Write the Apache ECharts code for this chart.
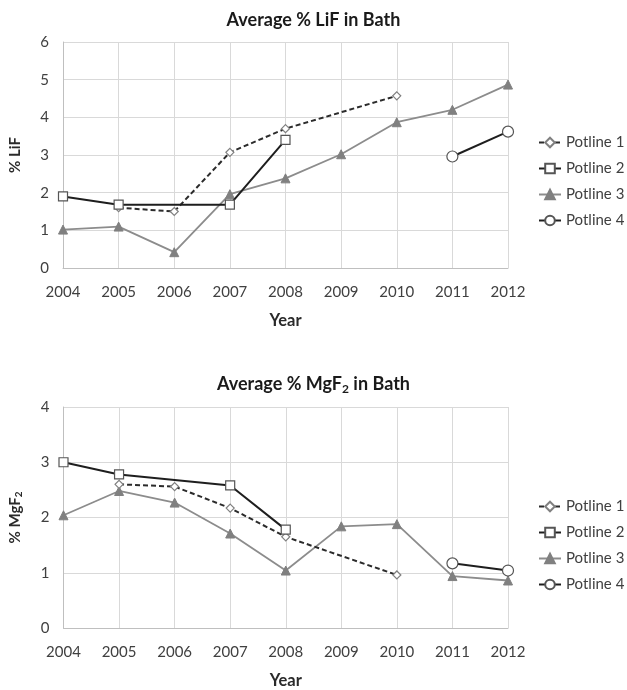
<!DOCTYPE html>
<html><head><meta charset="utf-8">
<script src="https://cdn.jsdelivr.net/npm/echarts@6/dist/echarts.min.js"></script>
<style>html,body{margin:0;padding:0;background:#fff}#c{width:627px;height:690px}</style>
</head><body><div id="c"></div>
<script>
const years = ['2004','2005','2006','2007','2008','2009','2010','2011','2012'];
const seriesNames = ['Potline 1','Potline 2','Potline 3','Potline 4'];
const lifP1 = [null,1.6,1.5,3.07,3.7,null,4.57,null,null];
const lifP2 = [1.9,1.68,null,1.68,3.4,null,null,null,null];
const lifP3 = [1.02,1.1,0.42,1.96,2.38,3.02,3.87,4.2,4.87];
const lifP4 = [null,null,null,null,null,null,null,2.96,3.62];
const mgP1 = [null,2.6,2.56,2.17,1.65,null,0.96,null,null];
const mgP2 = [3.0,2.78,null,2.58,1.78,null,null,null,null];
const mgP3 = [2.04,2.48,2.27,1.71,1.04,1.84,1.88,0.94,0.86];
const mgP4 = [null,null,null,null,null,null,null,1.17,1.04];
const lifTicks = {min:0,max:6,interval:1};
const mgTicks = {min:0,max:4,interval:1};

const FONT = 'Lato';
const txt = '#404040';
const grid = '#d9d9d9';

function styles(i){
  return [
    {symbol:'diamond',symbolSize:8,lineStyle:{color:'#2b2b2b',width:2,type:[5,3]},itemStyle:{color:'#fff',borderColor:'#808080',borderWidth:1.2}},
    {symbol:'rect',symbolSize:9,lineStyle:{color:'#1e1e1e',width:2},itemStyle:{color:'#fff',borderColor:'#555',borderWidth:1.2}},
    {symbol:'triangle',symbolSize:9,lineStyle:{color:'#8c8c8c',width:1.8},itemStyle:{color:'#808080',borderColor:'#808080',borderWidth:1}},
    {symbol:'circle',symbolSize:11,lineStyle:{color:'#1e1e1e',width:2},itemStyle:{color:'#fff',borderColor:'#555',borderWidth:1.2}}
  ][i];
}
function mk(name,data,idx,gi){
  const s = styles(idx);
  return Object.assign({type:'line',name:name,data:data,xAxisIndex:gi,yAxisIndex:gi,connectNulls:true,showSymbol:true,animation:false,z:idx===2?2:3},s);
}
function xax(gi){
  return {type:'category',gridIndex:gi,data:years,boundaryGap:false,
    axisLine:{lineStyle:{color:'#bfbfbf'}},axisTick:{show:false},
    axisLabel:{color:txt,fontFamily:FONT,fontSize:15,margin:17},
    splitLine:{show:true,lineStyle:{color:grid}},
    name:'Year',nameLocation:'middle',nameGap:44,
    nameTextStyle:{color:'#2a2a2a',fontFamily:FONT,fontSize:16.5,fontWeight:'bold'}};
}
function yax(gi,t,name){
  return Object.assign({type:'value',gridIndex:gi,
    axisLine:{show:true,lineStyle:{color:'#bfbfbf'}},axisTick:{show:false},
    axisLabel:{color:txt,fontFamily:FONT,fontSize:15,margin:14},
    splitLine:{show:true,lineStyle:{color:grid}},
    name:name,nameLocation:'middle',nameGap:40,nameRotate:90,
    nameTextStyle:{color:'#2a2a2a',fontFamily:FONT,fontSize:15,fontWeight:'bold',
      rich:{sub:{fontSize:10,fontWeight:'bold',color:'#2a2a2a',fontFamily:FONT,verticalAlign:'bottom',padding:[6,0,0,0]}}}},t);
}
const titleRich = {b:{fontFamily:FONT,fontSize:18,fontWeight:'bold',color:'#1a1a1a'},sub:{fontFamily:FONT,fontSize:12,fontWeight:'bold',color:'#1a1a1a',padding:[9,0,0,0]}};
const legendCommon = {data:seriesNames,orient:'vertical',left:538,padding:0,itemWidth:22,itemHeight:12,itemGap:11,textStyle:{color:txt,fontFamily:FONT,fontSize:15}};
const chart = echarts.init(document.getElementById('c'),null,{renderer:'canvas'});
chart.setOption({
  backgroundColor:'#fff',
  animation:false,
  title:[
    {text:'{b|Average % LiF in Bath}',left:'center',top:6,textStyle:{rich:titleRich}},
    {text:'{b|Average % MgF}{sub|2}{b| in Bath}',left:'center',top:369,textStyle:{rich:titleRich}}
  ],
  legend:[
    Object.assign({top:135},legendCommon),
    Object.assign({top:499},legendCommon)
  ],
  grid:[
    {left:61,top:42,width:447,height:226},
    {left:61,top:407,width:447,height:227}
  ],
  xAxis:[xax(0),xax(1)],
  yAxis:[yax(0,lifTicks,'% LiF'),yax(1,mgTicks,'{a|% MgF}{sub|2}')],
  series:[
    mk('Potline 1',lifP1,0,0),mk('Potline 2',lifP2,1,0),mk('Potline 3',lifP3,2,0),mk('Potline 4',lifP4,3,0),
    mk('Potline 1',mgP1,0,1),mk('Potline 2',mgP2,1,1),mk('Potline 3',mgP3,2,1),mk('Potline 4',mgP4,3,1)
  ]
});
</script></body></html>
